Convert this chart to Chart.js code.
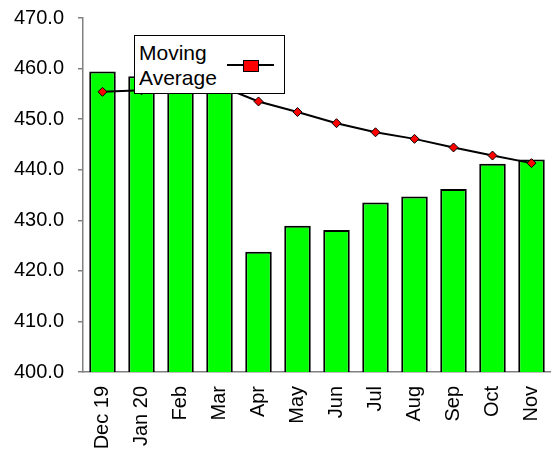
<!DOCTYPE html>
<html>
<head>
<meta charset="utf-8">
<script src="https://cdn.jsdelivr.net/npm/chart.js@4"></script>
<style>
  body { margin: 0; background: #fff; }
  #wrap { position: relative; width: 551px; height: 455px; }
  #legend {
    position: absolute; left: 134px; top: 35px; width: 149px; height: 57px;
    border: 1.5px solid #000; background: #fff;
    font-family: "Liberation Sans", Arial, sans-serif; font-size: 21px; line-height: 25px;
  }
  #legend .txt { position: absolute; left: 4px; top: 4px; color: #000; }
  #legend .ln { position: absolute; left: 92px; top: 28px; width: 47px; height: 2px; background: #000; }
  #legend .sq { position: absolute; left: 108px; top: 24px; width: 14px; height: 10px; background: #f00; border: 1.5px solid #000; }
</style>
</head>
<body>
<div id="wrap">
  <canvas id="chart" width="551" height="455"></canvas>
  <div id="legend">
    <div class="txt">Moving<br>Average</div>
    <div class="ln"></div>
    <div class="sq"></div>
  </div>
</div>
<script>
// values
var months = ['Dec 19', 'Jan 20', 'Feb', 'Mar', 'Apr', 'May', 'Jun', 'Jul', 'Aug', 'Sep', 'Oct', 'Nov'];
var monthly = [459.4, 458.5, 458.0, 457.5, 423.8, 428.9, 428.1, 433.5, 434.7, 436.2, 441.2, 442.0];
var movingAvg = [455.4, 455.7, 456.1, 456.6, 453.5, 451.4, 449.2, 447.4, 446.1, 444.4, 442.8, 441.3];
var yMin = 400, yMax = 470, yStep = 10;

var font = { family: '"Liberation Sans", Arial, sans-serif', size: 20 };

var ctx = document.getElementById('chart').getContext('2d');
new Chart(ctx, {
  data: {
    labels: months,
    datasets: [{
      type: 'line',
      label: 'Moving Average',
      data: movingAvg,
      borderColor: '#000',
      borderWidth: 2,
      tension: 0,
      pointStyle: 'rectRot',
      pointRadius: 4.5,
      pointBackgroundColor: '#f00',
      pointBorderColor: '#000',
      pointBorderWidth: 1,
      order: 0
    }, {
      type: 'bar',
      label: 'Monthly',
      data: monthly,
      backgroundColor: '#00ff00',
      borderColor: '#000',
      borderWidth: 2,
      borderSkipped: false,
      categoryPercentage: 1,
      barPercentage: 0.68,
      order: 1
    }]
  },
  options: {
    responsive: false,
    animation: false,
    layout: { autoPadding: false, padding: { top: 18, right: 0, left: 0, bottom: 0 } },
    plugins: {
      legend: { display: false },
      tooltip: { enabled: false }
    },
    scales: {
      x: {
        grid: { display: false, drawTicks: false },
        border: { display: true, color: '#808080', width: 1.5 },
        ticks: { color: '#000', font: font, minRotation: 90, maxRotation: 90, padding: 14 },
        afterFit: function(scale) {
          scale.height = 83;
          scale.paddingLeft = 0;
          scale.paddingRight = 0;
        }
      },
      y: {
        min: yMin,
        max: yMax,
        grid: { drawOnChartArea: false, drawTicks: true, tickLength: 5, color: '#808080', lineWidth: 1.5 },
        border: { display: true, color: '#808080', width: 1.5 },
        ticks: {
          stepSize: yStep,
          color: '#000',
          font: font,
          padding: 14,
          callback: function(v) { return v.toFixed(1); }
        },
        afterFit: function(scale) {
          scale.width = 83;
          scale.paddingTop = 0;
          scale.paddingBottom = 0;
        }
      }
    }
  }
});
</script>
</body>
</html>
